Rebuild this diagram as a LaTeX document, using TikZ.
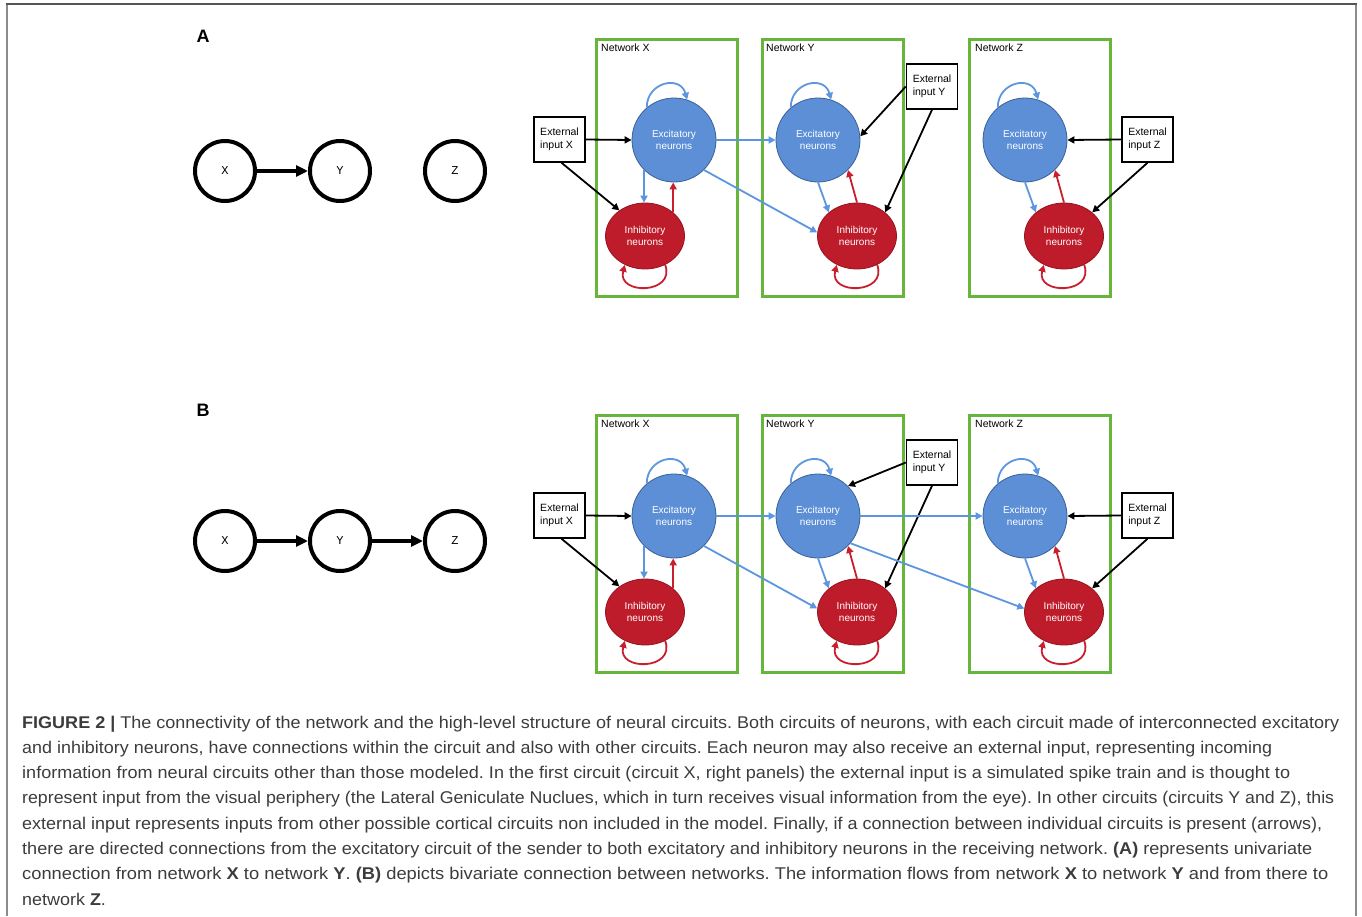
\documentclass[tikz,border=0pt]{standalone}
\usepackage{fontspec}
\setmainfont{Liberation Sans}
\newfontfamily\monofont{Liberation Mono}
\usetikzlibrary{arrows.meta,shapes.geometric}
\definecolor{netgreen}{RGB}{104,181,60}
\definecolor{excfill}{RGB}{92,143,214}
\definecolor{excborder}{RGB}{58,96,150}
\definecolor{inhfill}{RGB}{190,28,42}
\definecolor{inhborder}{RGB}{150,20,32}
\definecolor{arrblue}{RGB}{92,150,222}
\definecolor{arrred}{RGB}{200,30,45}
\definecolor{captext}{RGB}{60,60,60}
\definecolor{framedark}{RGB}{85,85,85}
\definecolor{framelight}{RGB}{140,140,140}
\newcommand\capfit[2]{\resizebox{#1pt}{\height}{#2}}
\frenchspacing
\newcommand\netpanel[2]{%
\begin{scope}[yshift=-#2pt]
\node[netbox] (boxX#1) at (666.5,-167.5) {};
\node[netbox] (boxY#1) at (832.5,-167.5) {};
\node[netbox] (boxZ#1) at (1039.5,-167.5) {};
\node[netlabel] (labX#1) at (601,-48) {Network X};
\node[netlabel] (labY#1) at (766,-48) {Network Y};
\node[netlabel] (labZ#1) at (975,-48) {Network Z};
\node[exc] (exX#1) at (674,-140) {Excitatory\\neurons};
\node[exc] (exY#1) at (818,-140) {Excitatory\\neurons};
\node[exc] (exZ#1) at (1025,-140) {Excitatory\\neurons};
\node[inh] (inX#1) at (645,-236) {Inhibitory\\neurons};
\node[inh] (inY#1) at (857,-236) {Inhibitory\\neurons};
\node[inh] (inZ#1) at (1064,-236) {Inhibitory\\neurons};
\node[extbox] (extX#1) at (559.5,-139.5) {External\\input X};
\node[extbox] (extY#1) at (932,-86.5) {External\\input Y};
\node[extbox] (extZ#1) at (1147.5,-139.5) {External\\input Z};
\foreach \n in {X,Y,Z}{%
  \draw[barr] (ex\n#1.130) to[out=90,in=105,looseness=1.6] (ex\n#1.72);
  \draw[rarr] (in\n#1.-55) to[out=-70,in=-105,looseness=2] (in\n#1.-125);
}
\draw[barr] (exX#1.south west) -- (exX#1.south west |- inX#1.north);
\draw[rarr] (inX#1.40) -- (inX#1.40 |- exX#1.south);
\draw[barr] (exY#1.south) -- (inY#1.140);
\draw[rarr] (inY#1.north) -- (exY#1.-45);
\draw[barr] (exZ#1.south) -- (inZ#1.140);
\draw[rarr] (inZ#1.north) -- (exZ#1.-45);
\draw[karr] (extX#1.east) -- (exX#1.west);
\draw[karr] ([xshift=2pt]extX#1.south) -- (inX#1.135);
\draw[karr] (extY#1.south) -- (inY#1.40);
\draw[karr] (extZ#1.west) -- (exZ#1.east);
\draw[karr] (extZ#1.south) -- (inZ#1.40);
\draw[barr] (exX#1.east) -- (exY#1.west);
\draw[barr] (exX#1.-45) -- (inY#1.175);
\end{scope}}
\begin{document}
\begin{tikzpicture}[x=1pt,y=1pt,
  netbox/.style={rectangle,draw=netgreen,line width=3pt,minimum width=141pt,minimum height=257pt,inner sep=0pt},
  netlabel/.style={anchor=west,inner sep=0pt,font=\fontsize{10.5}{12}\selectfont},
  exc/.style={circle,draw=excborder,fill=excfill,line width=0.8pt,minimum size=84pt,inner sep=0pt,text=white,align=center,font=\fontsize{10}{12.5}\selectfont},
  inh/.style={ellipse,draw=inhborder,fill=inhfill,line width=0.8pt,minimum width=79pt,minimum height=66pt,inner sep=0pt,text=white,align=center,font=\fontsize{10}{12.5}\selectfont},
  extbox/.style={rectangle,draw=black,line width=1.5pt,fill=white,minimum width=51pt,minimum height=45pt,inner sep=0pt,align=left,font=\fontsize{10.5}{13.5}\selectfont},
  barr/.style={draw=arrblue,line width=1.8pt,-{Triangle[length=7pt,width=7pt]}},
  rarr/.style={draw=arrred,line width=1.8pt,-{Triangle[length=7pt,width=7pt]}},
  karr/.style={draw=black,line width=1.8pt,-{Triangle[length=7pt,width=7pt]}},
  gnode/.style={circle,draw=black,line width=4pt,minimum size=60pt,inner sep=0pt,font=\monofont\fontsize{12}{12}\selectfont},
  garr/.style={draw=black,line width=4.5pt,-{Triangle[length=12pt,width=11pt]}},
  plabel/.style={font=\bfseries\fontsize{18}{18}\selectfont,inner sep=0pt},
  capline/.style={anchor=base west,inner sep=0pt,text=captext,font=\fontsize{17}{20}\selectfont}]
\useasboundingbox (0,0) rectangle (1362,-916);
% frame
\draw[framelight,line width=2pt] (7,-916) -- (7,-4);
\draw[framelight,line width=2pt] (1356,-916) -- (1356,-4);
\draw[framedark,line width=2pt] (6,-4) -- (1357,-4);
% panel labels
\node[plabel] (pA) at (203,-36) {A};
\node[plabel] (pB) at (203,-410) {B};
% left graphs
\node[gnode] (gXa) at (225,-171) {X};
\node[gnode] (gYa) at (340,-171) {Y};
\node[gnode] (gZa) at (455,-171) {Z};
\draw[garr] (gXa) -- (gYa);
\node[gnode] (gXb) at (225,-541) {X};
\node[gnode] (gYb) at (340,-541) {Y};
\node[gnode] (gZb) at (455,-541) {Z};
\draw[garr] (gXb) -- (gYb);
\draw[garr] (gYb) -- (gZb);
% network panels
\netpanel{a}{0}
\draw[karr] (extYa.west) -- (exYa.5);
\netpanel{b}{376}
\draw[karr] (extYb.west) -- (exYb.45);
\draw[barr] (exYb.east) -- (exZb.west);
\draw[barr] (exYb.-40) -- (inZb.175);
% caption
\node[capline] (c1) at (22,-728) {\capfit{1317}{\textbf{FIGURE 2 |} The connectivity of the network and the high-level structure of neural circuits. Both circuits of neurons, with each circuit made of interconnected excitatory}};
\node[capline] (c2) at (22,-753.3) {\capfit{1250}{and inhibitory neurons, have connections within the circuit and also with other circuits. Each neuron may also receive an external input, representing incoming}};
\node[capline] (c3) at (22,-778.6) {\capfit{1268}{information from neural circuits other than those modeled. In the first circuit (circuit X, right panels) the external input is a simulated spike train and is thought to}};
\node[capline] (c4) at (22,-803.9) {\capfit{1312}{represent input from the visual periphery (the Lateral Geniculate Nuclues, which in turn receives visual information from the eye). In other circuits (circuits Y and Z), this}};
\node[capline] (c5) at (22,-829.2) {\capfit{1300}{external input represents inputs from other possible cortical circuits non included in the model. Finally, if a connection between individual circuits is present (arrows),}};
\node[capline] (c6) at (22,-854.5) {\capfit{1290}{there are directed connections from the excitatory circuit of the sender to both excitatory and inhibitory neurons in the receiving network. \textbf{(A)} represents univariate}};
\node[capline] (c7) at (22,-879.8) {\capfit{1306}{connection from network \textbf{X} to network \textbf{Y}. \textbf{(B)} depicts bivariate connection between networks. The information flows from network \textbf{X} to network \textbf{Y} and from there to}};
\node[capline] (c8) at (22,-905.1) {\scalebox{1.055}[1]{network \textbf{Z}.}};
\end{tikzpicture}
\end{document}
